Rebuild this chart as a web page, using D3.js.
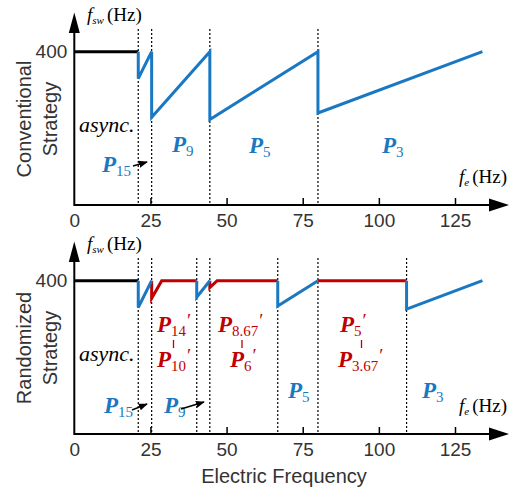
<!DOCTYPE html>
<html>
<head>
<meta charset="utf-8">
<script src="https://cdn.jsdelivr.net/npm/d3@7"></script>
<style>
html,body{margin:0;padding:0;background:#fff;}
svg{display:block;}
</style>
</head>
<body>
<script>
// ---------- data ----------
const xTickValues = [0, 25, 50, 75, 100, 125];
const yTickValues = [400];
// Conventional strategy
const convAsync = [[0, 400], [21, 400]];
const convSync = [[21, 400], [21, 330], [25.4, 400], [25.4, 229], [44.5, 400], [44.5, 223], [80, 400], [80, 240], [134, 400]];
const convBounds = [21, 25.4, 44.5, 80];
// Randomized strategy
const randAsync = [[0, 400], [21, 400]];
const randBlue = [
  [[21, 400], [21, 330], [25.4, 400]],
  [[40.2, 400], [40.2, 357], [44.5, 400]],
  [[66.8, 400], [66.8, 334], [80, 400]],
  [[109.1, 400], [109.1, 326], [134, 400]]
];
const randRed = [
  [[25.4, 400], [25.4, 354], [28.7, 400], [40.2, 400]],
  [[44.5, 400], [44.5, 382], [46.9, 400], [66.8, 400]],
  [[80, 400], [109.1, 400]]
];
const randBounds = [21, 25.4, 40.2, 44.5, 66.8, 80, 109.1];
const panelTitles = [["Conventional", "Strategy"], ["Randomized", "Strategy"]];
const xTitle = "Electric Frequency";

// ---------- setup ----------
const W = 522, H = 488;
const BLUE = "#1a78c2", RED = "#c00000";
const svg = d3.select("body").append("svg").attr("width", W).attr("height", H);
const x = d3.scaleLinear().domain([0, 125]).range([74.3, 455]);
const y = d3.scaleLinear().domain([0, 400]).range([205, 51.7]);
const line = d3.line().x(d => x(d[0])).y(d => y(d[1]));
const SANS = "'Liberation Sans', Arial, sans-serif";
const SERIF = "'Liberation Serif', 'Times New Roman', serif";

function drawPanel(g, titles) {
  const ax = d3.axisBottom(x).tickValues(xTickValues).tickSizeInner(-7).tickSizeOuter(0).tickPadding(9);
  const gx = g.append("g").attr("transform", `translate(0,${y(0)})`).call(ax);
  gx.select(".domain").remove();
  gx.selectAll(".tick line").attr("stroke", "#000").attr("stroke-width", 1.5);
  gx.selectAll(".tick").filter(d => d === 0).select("line").remove();
  gx.selectAll(".tick text").style("font-family", SANS).style("font-size", "19px").attr("fill", "#333");
  g.append("line").attr("x1", x(0)).attr("x2", 490).attr("y1", y(0)).attr("y2", y(0))
    .attr("stroke", "#000").attr("stroke-width", 2);
  g.append("path").attr("d", `M489,${y(0) - 6.5} L509,${y(0)} L489,${y(0) + 6.5} Z`).attr("fill", "#000");
  const ay = d3.axisLeft(y).tickValues(yTickValues).tickSize(0).tickPadding(7);
  const gy = g.append("g").attr("transform", `translate(${x(0)},0)`).call(ay);
  gy.select(".domain").remove();
  gy.selectAll(".tick text").style("font-family", SANS).style("font-size", "19px").attr("fill", "#333");
  g.append("line").attr("x1", x(0)).attr("x2", x(0)).attr("y1", y(0) + 1).attr("y2", 32)
    .attr("stroke", "#000").attr("stroke-width", 2);
  g.append("path").attr("d", `M${x(0) - 5.5},33 L${x(0)},12.5 L${x(0) + 5.5},33 Z`).attr("fill", "#000");
  const fs = g.append("text").attr("x", 87).attr("y", 21).style("font-family", SERIF).attr("fill", "#000");
  fs.append("tspan").text("f").style("font-style", "italic").style("font-size", "19px");
  fs.append("tspan").text("sw").attr("dy", 3).style("font-style", "italic").style("font-size", "11px");
  fs.append("tspan").text("(Hz)").attr("dy", -3).attr("dx", 3).style("font-size", "19px");
  const fe = g.append("text").attr("x", 459).attr("y", 183).style("font-family", SERIF).attr("fill", "#000");
  fe.append("tspan").text("f").style("font-style", "italic").style("font-size", "19px");
  fe.append("tspan").text("e").attr("dy", 3).style("font-style", "italic").style("font-size", "11px");
  fe.append("tspan").text("(Hz)").attr("dy", -3).attr("dx", 3).style("font-size", "19px");
  const tg = g.append("g").attr("transform", "translate(0,119) rotate(-90)");
  tg.append("text").attr("x", 0).attr("y", 31).attr("text-anchor", "middle").text(titles[0])
    .style("font-family", SANS).style("font-size", "20px").attr("fill", "#333");
  tg.append("text").attr("x", 0).attr("y", 57).attr("text-anchor", "middle").text(titles[1])
    .style("font-family", SANS).style("font-size", "20px").attr("fill", "#333");
  g.append("text").attr("x", 79).attr("y", 132).text("async.")
    .style("font-family", SERIF).style("font-style", "italic").style("font-size", "22px").attr("fill", "#000");
}

function drawBounds(g, bounds) {
  g.selectAll(null).data(bounds).enter().append("line")
    .attr("x1", d => x(d)).attr("x2", d => x(d)).attr("y1", 29).attr("y2", y(0))
    .attr("stroke", "#000").attr("stroke-width", 1.2).attr("stroke-dasharray", "2,2");
}

function mathP(g, px, py, sub, prime, color) {
  const t = g.append("text").attr("x", px).attr("y", py).attr("fill", color).style("font-family", SERIF);
  t.append("tspan").text("P").style("font-weight", "bold").style("font-style", "italic").style("font-size", "23px");
  t.append("tspan").text(sub).attr("dy", 4).style("font-size", "15px");
  if (prime) t.append("tspan").text("′").attr("dy", -9).attr("dx", 1).style("font-size", "19px");
}

function arrow(g, x1, y1, x2, y2) {
  g.append("line").attr("x1", x1).attr("y1", y1).attr("x2", x2).attr("y2", y2)
    .attr("stroke", "#000").attr("stroke-width", 1.5).attr("marker-end", "url(#ah)");
}

const defs = svg.append("defs");
defs.append("marker").attr("id", "ah").attr("viewBox", "0 0 10 10").attr("refX", 9).attr("refY", 5)
  .attr("orient", "auto").attr("markerUnits", "userSpaceOnUse")
  .attr("markerWidth", 9).attr("markerHeight", 9)
  .append("path").attr("d", "M0,1 L10,5 L0,9 Z").attr("fill", "#000");

// ---------- top panel ----------
const topG = svg.append("g");
drawPanel(topG, panelTitles[0]);
drawBounds(topG, convBounds);
topG.append("path").attr("d", line(convAsync)).attr("fill", "none").attr("stroke", "#000").attr("stroke-width", 3);
topG.append("path").attr("d", line(convSync)).attr("fill", "none").attr("stroke", BLUE).attr("stroke-width", 3);
mathP(topG, 102, 172, "15", false, BLUE);
arrow(topG, 133, 166, 147, 162);
mathP(topG, 172, 152, "9", false, BLUE);
mathP(topG, 249, 153, "5", false, BLUE);
mathP(topG, 382, 153, "3", false, BLUE);

// ---------- bottom panel ----------
const botG = svg.append("g").attr("transform", "translate(0,229)");
drawPanel(botG, panelTitles[1]);
drawBounds(botG, randBounds);
botG.append("path").attr("d", line(randAsync)).attr("fill", "none").attr("stroke", "#000").attr("stroke-width", 3);
randRed.forEach(s => botG.append("path").attr("d", line(s)).attr("fill", "none").attr("stroke", RED).attr("stroke-width", 3));
randBlue.forEach(s => botG.append("path").attr("d", line(s)).attr("fill", "none").attr("stroke", BLUE).attr("stroke-width", 3));

function pair(g, px1, px2, cx, top1, sub2) {
  mathP(g, px1, 103, top1, true, RED);
  g.append("line").attr("x1", cx).attr("x2", cx).attr("y1", 111).attr("y2", 119).attr("stroke", RED).attr("stroke-width", 1.3);
  mathP(g, px2, 138, sub2, true, RED);
}
pair(botG, 157, 157, 173.5, "14", "10");
pair(botG, 218, 230, 242, "8.67", "6");
pair(botG, 340, 338, 361.5, "5", "3.67");
mathP(botG, 288, 169, "5", false, BLUE);
mathP(botG, 422, 169, "3", false, BLUE);
mathP(botG, 104, 184, "15", false, BLUE);
arrow(botG, 132, 181, 147, 175);
mathP(botG, 164, 184, "9", false, BLUE);
arrow(botG, 181, 180, 204, 173);

svg.append("text").attr("x", 284).attr("y", 483).attr("text-anchor", "middle").text(xTitle)
  .style("font-family", SANS).style("font-size", "20px").attr("fill", "#333");
</script>
</body>
</html>
